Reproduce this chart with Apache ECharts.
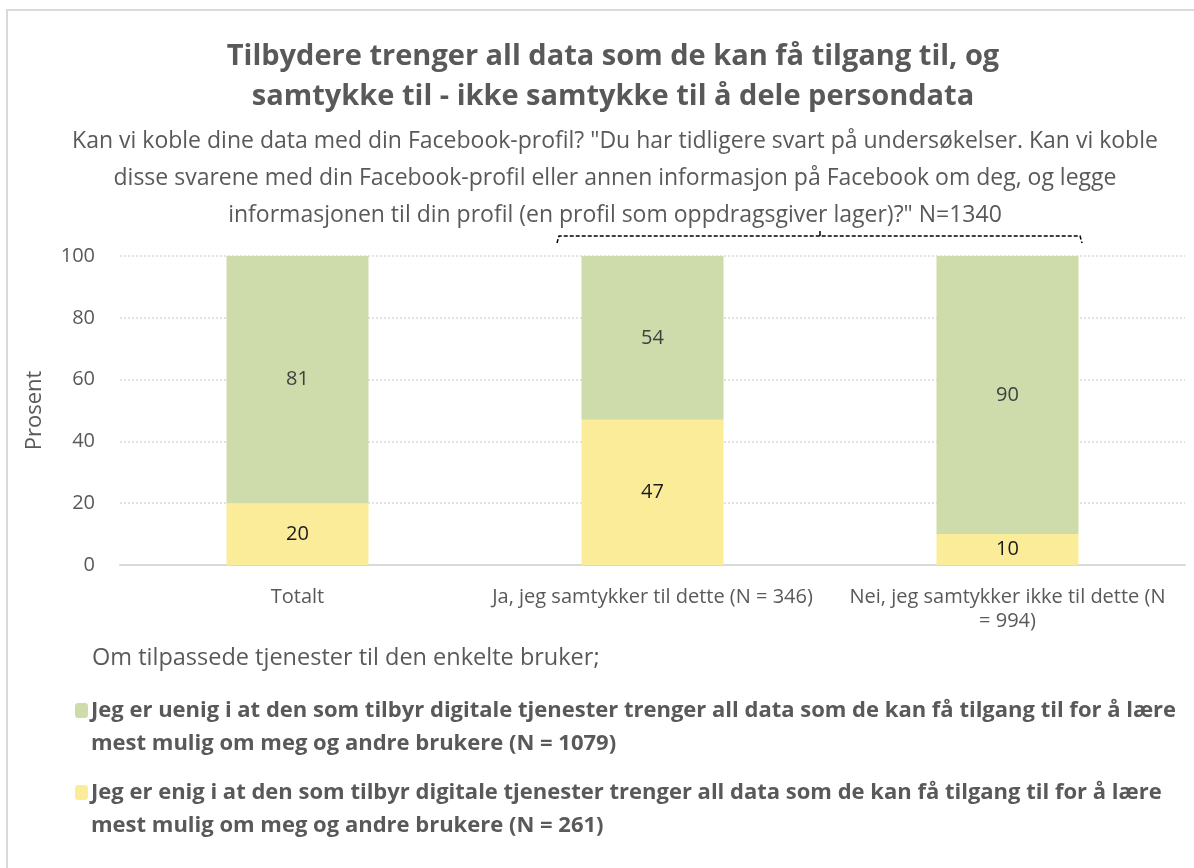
<!DOCTYPE html>
<html>
<head>
    <meta charset="utf-8">
    <script src="https://cdn.jsdelivr.net/npm/echarts@6/dist/echarts.min.js"></script>
    <title>Samtykke og data</title>
    <style>
        html, body { margin: 0; padding: 0; background: #fff; }
    </style>
</head>
<body>
    <div id="main" style="width:1194px; height:868px;"></div>
    <script type="text/javascript">
        // data
        var categories = ['Totalt', 'Ja, jeg samtykker til dette (N = 346)', 'Nei, jeg samtykker ikke til dette (N\n= 994)'];
        var enigValues = [20, 47, 10];
        var uenigValues = [81, 54, 90];
        var yTicks = { min: 0, max: 100, interval: 20 };

        var titleLines = ['Tilbydere trenger all data som de kan få tilgang til, og', 'samtykke til - ikke samtykke til å dele persondata'];
        var subLines = [
            'Kan vi koble dine data med din Facebook-profil? "Du har tidligere svart på undersøkelser. Kan vi koble',
            'disse svarene med din Facebook-profil eller annen informasjon på Facebook om deg, og legge',
            'informasjonen til din profil (en profil som oppdragsgiver lager)?" N=1340'
        ];
        var legendHeading = 'Om tilpassede tjenester til den enkelte bruker;';
        var uenigName = 'Jeg er uenig i at den som tilbyr digitale tjenester trenger all data som de kan få tilgang til for å lære mest mulig om meg og andre brukere (N = 1079)';
        var enigName = 'Jeg er enig i at den som tilbyr digitale tjenester trenger all data som de kan få tilgang til for å lære mest mulig om meg og andre brukere (N = 261)';

        var FONT = 'Open Sans';
        var GREEN = '#cddcaa';
        var YELLOW = '#fbec9a';

        // split long legend names into two lines, with an empty first line so the icon sits by line one
        function legendText(name) {
            var cut = name.indexOf(' mest mulig');
            return '\n' + name.slice(0, cut) + '\n' + name.slice(cut + 1);
        }

        var myChart = echarts.init(document.getElementById('main'));

        var legendStyle = { fontFamily: FONT, fontSize: 22, fontWeight: 'bold', color: '#595959', lineHeight: 33, padding: [0, 0, 0, -2] };

        var option = {
            backgroundColor: '#fff',
            textStyle: { fontFamily: FONT },
            graphic: [
                {
                    type: 'rect',
                    shape: { x: 7, y: 10, width: 1210, height: 880 },
                    style: { fill: 'none', stroke: '#d9d9d9', lineWidth: 2 },
                    silent: true
                },
                {
                    type: 'text',
                    x: 613, y: 77,
                    style: {
                        text: titleLines.join('\n'),
                        font: 'bold 29px "' + FONT + '"',
                        fill: '#595959',
                        align: 'center',
                        verticalAlign: 'middle',
                        lineHeight: 40
                    }
                },
                {
                    type: 'text',
                    x: 615, y: 123,
                    style: {
                        text: subLines.join('\n'),
                        font: '23px "' + FONT + '"',
                        fill: '#595959',
                        align: 'center',
                        verticalAlign: 'top',
                        lineHeight: 37
                    }
                },
                {
                    type: 'polyline',
                    shape: { points: [[557, 243], [559, 236], [1080, 236], [1082, 243]] },
                    style: { stroke: '#000', lineWidth: 1.5, lineDash: [4, 2], fill: null },
                    silent: true
                },
                {
                    type: 'line',
                    shape: { x1: 820, y1: 231, x2: 820, y2: 236 },
                    style: { stroke: '#000', lineWidth: 1.5 },
                    silent: true
                },
                {
                    type: 'text',
                    x: 92, y: 658,
                    style: {
                        text: legendHeading,
                        font: '23.5px "' + FONT + '"',
                        fill: '#595959',
                        verticalAlign: 'middle'
                    }
                }
            ],
            legend: [
                {
                    data: [uenigName],
                    left: 70, top: 656,
                    orient: 'vertical',
                    itemWidth: 13, itemHeight: 15,
                    itemGap: 0,
                    formatter: legendText,
                    textStyle: legendStyle
                },
                {
                    data: [enigName],
                    left: 70, top: 738,
                    orient: 'vertical',
                    itemWidth: 13, itemHeight: 15,
                    itemGap: 0,
                    formatter: legendText,
                    textStyle: legendStyle
                }
            ],
            grid: { left: 120, right: 9, top: 256, bottom: 303 },
            xAxis: {
                type: 'category',
                data: categories,
                axisLine: { lineStyle: { color: '#d9d9d9', width: 2 } },
                axisTick: { show: false },
                axisLabel: { color: '#595959', fontSize: 20, margin: 20, lineHeight: 24, interval: 0 }
            },
            yAxis: {
                type: 'value',
                min: yTicks.min, max: yTicks.max, interval: yTicks.interval,
                name: 'Prosent',
                nameLocation: 'middle',
                nameGap: 74,
                nameTextStyle: { color: '#595959', fontSize: 22 },
                axisLine: { show: false },
                axisTick: { show: false },
                axisLabel: { color: '#595959', fontSize: 20, margin: 25 },
                splitLine: { lineStyle: { color: '#d9d9d9', type: [2, 2], width: 1.5 } }
            },
            series: [
                {
                    name: enigName,
                    type: 'bar',
                    stack: 'total',
                    barWidth: '40%',
                    data: enigValues,
                    itemStyle: { color: YELLOW },
                    label: { show: true, position: 'inside', color: '#1a1a1a', fontSize: 20 }
                },
                {
                    name: uenigName,
                    type: 'bar',
                    stack: 'total',
                    barWidth: '40%',
                    data: uenigValues,
                    itemStyle: { color: GREEN },
                    label: { show: true, position: 'inside', color: '#404040', fontSize: 20 }
                }
            ]
        };

        myChart.setOption(option);
    </script>
</body>
</html>
